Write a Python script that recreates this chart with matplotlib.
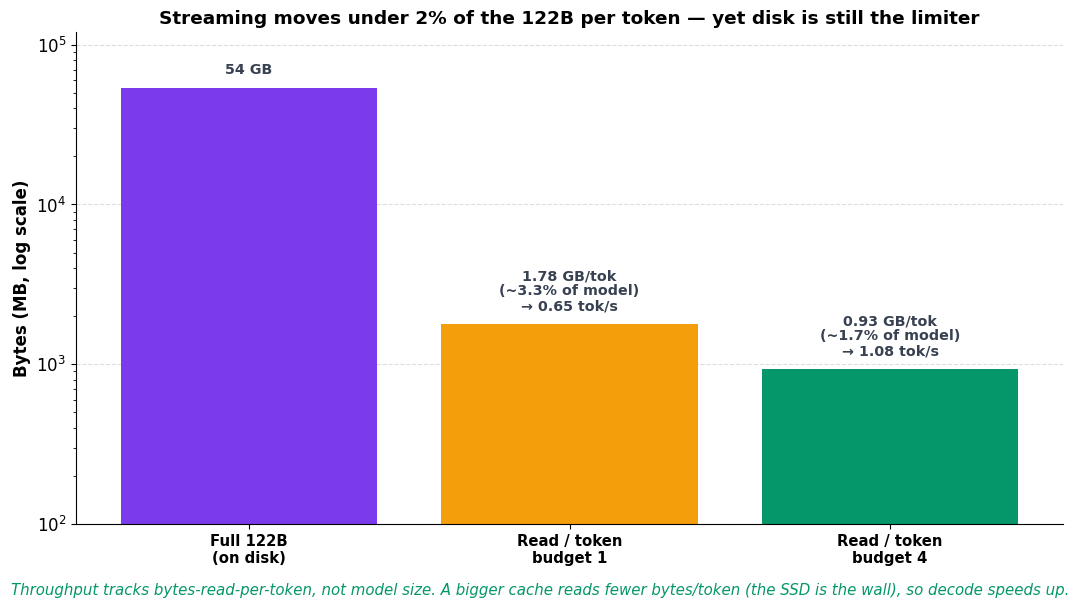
import matplotlib
matplotlib.use("Agg")
import matplotlib.pyplot as plt
import numpy as np

categories = ["Full 122B\n(on disk)", "Read / token\nbudget 1", "Read / token\nbudget 4"]
values_mb = [54000, 1780, 930]
bar_labels = ["54 GB",
              "1.78 GB/tok\n(~3.3% of model)\n\u2192 0.65 tok/s",
              "0.93 GB/tok\n(~1.7% of model)\n\u2192 1.08 tok/s"]
colors = ["#7c3aed", "#f59e0b", "#059669"]

fig = plt.figure(figsize=(10.8, 6.07), dpi=100)
ax = fig.add_axes([0.0704, 0.137, 0.914, 0.81])
x = np.arange(len(categories))
bars = ax.bar(x, values_mb, width=0.8, color=colors, zorder=2)
ax.set_yscale("log")
ax.set_ylim(100, 1.2e5)
ax.set_xticks(x)
ax.set_xticklabels(categories, fontsize=10.7, fontweight="bold")
ax.tick_params(axis="y", labelsize=12)
ax.set_ylabel("Bytes (MB, log scale)", fontsize=12, fontweight="bold")
ax.set_title("Streaming moves under 2% of the 122B per token \u2014 yet disk is still the limiter",
             fontsize=13.3, fontweight="bold", pad=6)
ax.spines["top"].set_visible(False)
ax.spines["right"].set_visible(False)
ax.yaxis.grid(True, which="major", linestyle="--", color="#dddddd", linewidth=0.8, zorder=0)
ax.set_axisbelow(True)
for xi, v, lab in zip(x, values_mb, bar_labels):
    ax.text(xi, v * 1.17, lab, ha="center", va="bottom", fontsize=10.3,
            fontweight="bold", color="#374151", linespacing=1.1)
fig.text(0.5, 0.028,
         "Throughput tracks bytes-read-per-token, not model size. A bigger cache reads fewer bytes/token (the SSD is the wall), so decode speeds up.",
         ha="center", va="center", fontsize=10.8, style="italic", color="#059669")
fig.savefig("out.png", dpi=100)
